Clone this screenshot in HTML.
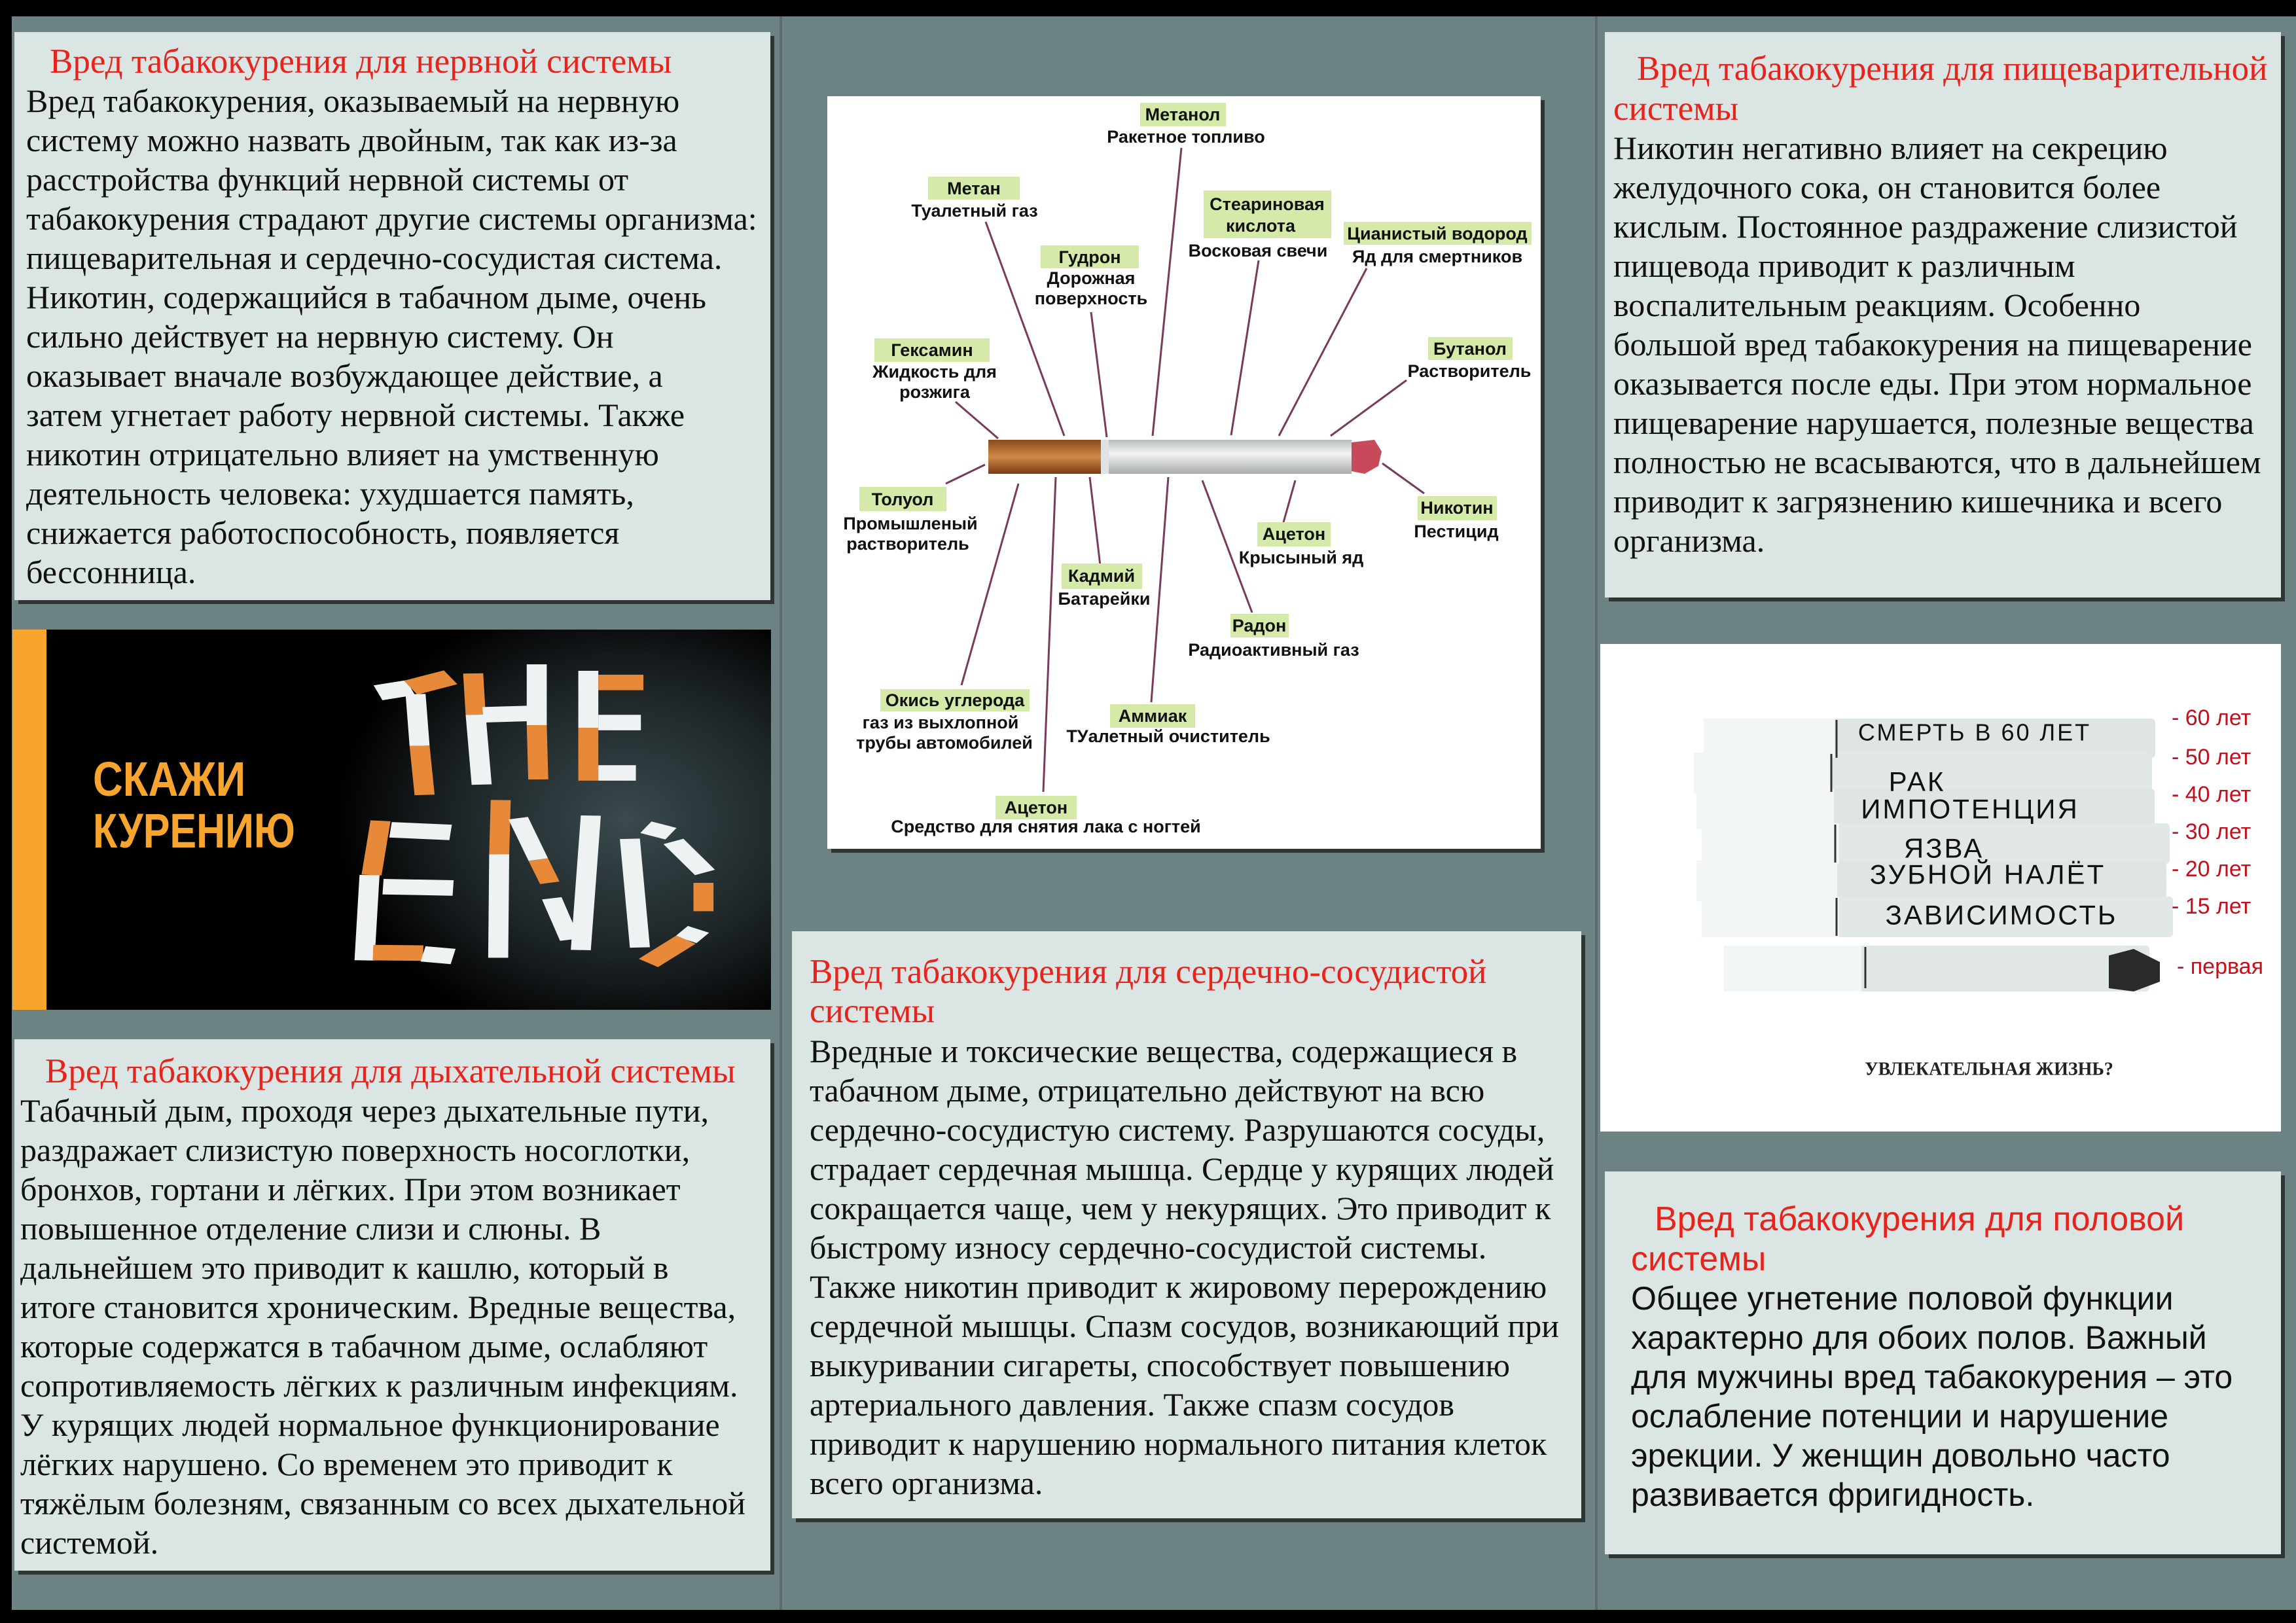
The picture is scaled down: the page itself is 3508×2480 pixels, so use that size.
<!DOCTYPE html>
<html><head><meta charset="utf-8">
<style>
*{margin:0;padding:0;box-sizing:border-box}
html,body{width:3508px;height:2480px;overflow:hidden}
body{background:#000;position:relative;font-family:"Liberation Serif","DejaVu Serif",serif}
.bg{position:absolute;left:18px;top:25px;width:3490px;height:2435px;background:#6d8283}
.div{position:absolute;top:25px;width:4px;height:2435px;background:#5a6c6d}
.box{position:absolute;background:#dbe5e4;box-shadow:6px 6px 0 #2e3535}
.t{position:absolute;white-space:nowrap;line-height:60px;font-size:50px;color:#111}
.h{color:#e8231b;font-size:53px}
.s{font-family:"Liberation Sans","DejaVu Sans",sans-serif;font-size:50px}
</style></head><body>
<div class="bg"></div>
<div class="div" style="left:1191px"></div>
<div class="div" style="left:2437px"></div>

<!-- Box 1 -->
<div class="box" style="left:22px;top:49px;width:1155px;height:868px"></div>
<div class="t h" style="left:76px;top:64px">Вред табакокурения для нервной системы</div>
<div class="t" style="left:40px;top:124px">Вред табакокурения, оказываемый на нервную<br>систему можно назвать двойным, так как из-за<br>расстройства функций нервной системы от<br>табакокурения страдают другие системы организма:<br>пищеварительная и сердечно-сосудистая система.<br>Никотин, содержащийся в табачном дыме, очень<br>сильно действует на нервную систему. Он<br>оказывает вначале возбуждающее действие, а<br>затем угнетает работу нервной системы. Также<br>никотин отрицательно влияет на умственную<br>деятельность человека: ухудшается память,<br>снижается работоспособность, появляется<br>бессонница.</div>

<!-- Dark image -->
<svg style="position:absolute;left:19px;top:962px" width="1159" height="581" viewBox="19 962 1159 581">
<defs><radialGradient id="dg" cx="0.7" cy="0.5" r="0.6"><stop offset="0" stop-color="#3a4a4e"/><stop offset="0.6" stop-color="#1c2325"/><stop offset="1" stop-color="#000"/></radialGradient></defs>
<rect x="19" y="962" width="1159" height="581" fill="#000"/>
<rect x="440" y="962" width="738" height="581" fill="url(#dg)"/>
<rect x="19" y="962" width="52" height="581" fill="#f7a52e"/>
<g transform="translate(0,950) scale(0.765,0.395)" stroke-linecap="butt">
<line x1="755" y1="275" x2="820" y2="255" stroke="#eef2f2" stroke-width="60"/>
<line x1="820" y1="255" x2="900" y2="215" stroke="#e8893a" stroke-width="60"/>
<line x1="830" y1="280" x2="838" y2="480" stroke="#eef2f2" stroke-width="40"/>
<line x1="838" y1="480" x2="848" y2="670" stroke="#e8893a" stroke-width="40"/>
<line x1="945" y1="200" x2="950" y2="360" stroke="#e8893a" stroke-width="40"/>
<line x1="950" y1="360" x2="962" y2="630" stroke="#eef2f2" stroke-width="40"/>
<line x1="965" y1="360" x2="1055" y2="355" stroke="#eef2f2" stroke-width="60"/>
<line x1="1072" y1="165" x2="1072" y2="400" stroke="#eef2f2" stroke-width="40"/>
<line x1="1072" y1="400" x2="1075" y2="610" stroke="#e8893a" stroke-width="40"/>
<line x1="1175" y1="190" x2="1175" y2="410" stroke="#eef2f2" stroke-width="40"/>
<line x1="1175" y1="410" x2="1175" y2="615" stroke="#e8893a" stroke-width="40"/>
<line x1="1195" y1="235" x2="1285" y2="235" stroke="#e8893a" stroke-width="60"/>
<line x1="1195" y1="390" x2="1280" y2="390" stroke="#eef2f2" stroke-width="60"/>
<line x1="1195" y1="585" x2="1270" y2="585" stroke="#eef2f2" stroke-width="60"/>
<line x1="760" y1="770" x2="742" y2="980" stroke="#e8893a" stroke-width="40"/>
<line x1="738" y1="980" x2="728" y2="1310" stroke="#eef2f2" stroke-width="40"/>
<line x1="780" y1="805" x2="900" y2="815" stroke="#eef2f2" stroke-width="60"/>
<line x1="765" y1="1025" x2="905" y2="1030" stroke="#eef2f2" stroke-width="60"/>
<line x1="745" y1="1280" x2="845" y2="1282" stroke="#e8893a" stroke-width="60"/>
<line x1="845" y1="1285" x2="905" y2="1295" stroke="#eef2f2" stroke-width="60"/>
<line x1="1000" y1="690" x2="997" y2="900" stroke="#e8893a" stroke-width="40"/>
<line x1="997" y1="900" x2="995" y2="1300" stroke="#eef2f2" stroke-width="40"/>
<line x1="1035" y1="760" x2="1075" y2="920" stroke="#eef2f2" stroke-width="40"/>
<line x1="1075" y1="920" x2="1098" y2="1010" stroke="#e8893a" stroke-width="40"/>
<line x1="1102" y1="1070" x2="1138" y2="1230" stroke="#eef2f2" stroke-width="40"/>
<line x1="1180" y1="750" x2="1160" y2="1270" stroke="#eef2f2" stroke-width="40"/>
<line x1="1258" y1="840" x2="1278" y2="1260" stroke="#eef2f2" stroke-width="40"/>
<line x1="1290" y1="795" x2="1340" y2="820" stroke="#eef2f2" stroke-width="50"/>
<line x1="1345" y1="850" x2="1408" y2="970" stroke="#eef2f2" stroke-width="45"/>
<line x1="1405" y1="1010" x2="1405" y2="1120" stroke="#e8893a" stroke-width="40"/>
<line x1="1395" y1="1190" x2="1370" y2="1230" stroke="#eef2f2" stroke-width="50"/>
<line x1="1370" y1="1230" x2="1295" y2="1320" stroke="#e8893a" stroke-width="50"/>
</g>
<g font-family="Liberation Sans,DejaVu Sans,sans-serif" font-weight="bold" fill="#f7a52e" font-size="74">
<text x="142" y="1216" transform="translate(142,0) scale(0.72,1) translate(-142,0)" textLength="324" lengthAdjust="spacingAndGlyphs">СКАЖИ</text>
<text x="142" y="1295" transform="translate(142,0) scale(0.72,1) translate(-142,0)" textLength="429" lengthAdjust="spacingAndGlyphs">КУРЕНИЮ</text>
</g>
</svg>

<!-- Respiratory box -->
<div class="box" style="left:22px;top:1588px;width:1155px;height:812px"></div>
<div class="t h" style="left:69px;top:1607px">Вред табакокурения для дыхательной системы</div>
<div class="t" style="left:31px;top:1667px">Табачный дым, проходя через дыхательные пути,<br>раздражает слизистую поверхность носоглотки,<br>бронхов, гортани и лёгких. При этом возникает<br>повышенное отделение слизи и слюны. В<br>дальнейшем это приводит к кашлю, который в<br>итоге становится хроническим. Вредные вещества,<br>которые содержатся в табачном дыме, ослабляют<br>сопротивляемость лёгких к различным инфекциям.<br>У курящих людей нормальное функционирование<br>лёгких нарушено. Со временем это приводит к<br>тяжёлым болезням, связанным со всех дыхательной<br>системой.</div>

<!-- Diagram -->
<svg style="position:absolute;left:0;top:0" width="3508" height="2480">
<defs>
<linearGradient id="fg" x1="0" y1="0" x2="0" y2="1"><stop offset="0" stop-color="#8a4a1c"/><stop offset="0.5" stop-color="#d08a4a"/><stop offset="1" stop-color="#7a3a14"/></linearGradient>
<linearGradient id="wg" x1="0" y1="0" x2="0" y2="1"><stop offset="0" stop-color="#b8bcbc"/><stop offset="0.4" stop-color="#f2f4f4"/><stop offset="1" stop-color="#a8acac"/></linearGradient>
</defs>
<rect x="1264" y="147" width="1090" height="1150" fill="#fff" style="filter:drop-shadow(6px 6px 0 #2e3535)"/>
<g stroke="#7a3a5c" stroke-width="3">
<line x1="1805" y1="226" x2="1761" y2="666"/>
<line x1="1506" y1="339" x2="1626" y2="666"/>
<line x1="1667" y1="477" x2="1691" y2="668"/>
<line x1="1923" y1="398" x2="1881" y2="665"/>
<line x1="2088" y1="410" x2="1954" y2="666"/>
<line x1="2149" y1="581" x2="2033" y2="666"/>
<line x1="1460" y1="614" x2="1525" y2="670"/>
<line x1="1445" y1="739" x2="1505" y2="710"/>
<line x1="2112" y1="708" x2="2176" y2="754"/>
<line x1="1979" y1="734" x2="1961" y2="798"/>
<line x1="1665" y1="729" x2="1681" y2="864"/>
<line x1="1837" y1="734" x2="1913" y2="936"/>
<line x1="1556" y1="739" x2="1469" y2="1047"/>
<line x1="1785" y1="729" x2="1759" y2="1073"/>
<line x1="1613" y1="729" x2="1594" y2="1210"/>
</g>
<rect x="1510" y="672" width="172" height="52" fill="url(#fg)"/>
<rect x="1682" y="672" width="383" height="52" fill="url(#wg)"/>
<rect x="1682" y="672" width="12" height="52" fill="#dfe3e3"/>
<path d="M2065 676 L2100 672 L2111 690 L2106 712 L2085 724 L2065 720Z" fill="#c84a5a"/>
<g fill="#d5eaa8">
<rect x="1742" y="157" width="131" height="36"/>
<rect x="1418" y="270" width="140" height="35"/>
<rect x="1590" y="375" width="150" height="35"/>
<rect x="1839" y="291" width="195" height="73"/>
<rect x="2053" y="339" width="287" height="35"/>
<rect x="2182" y="515" width="129" height="35"/>
<rect x="1336" y="517" width="176" height="36"/>
<rect x="1313" y="744" width="133" height="37"/>
<rect x="2166" y="758" width="121" height="37"/>
<rect x="1921" y="798" width="112" height="37"/>
<rect x="1622" y="861" width="123" height="39"/>
<rect x="1880" y="938" width="89" height="36"/>
<rect x="1345" y="1053" width="228" height="34"/>
<rect x="1696" y="1076" width="130" height="36"/>
<rect x="1521" y="1216" width="124" height="36"/>
</g>
<g font-family="Liberation Sans,DejaVu Sans,sans-serif" font-weight="bold" font-size="27" fill="#111" text-anchor="middle" dominant-baseline="central">
<text x="1807" y="175">Метанол</text><text x="1812" y="209">Ракетное топливо</text>
<text x="1488" y="288">Метан</text><text x="1489" y="322">Туалетный газ</text>
<text x="1665" y="393">Гудрон</text><text x="1667" y="425">Дорожная</text><text x="1667" y="456">поверхность</text>
<text x="1936" y="312">Стеариновая</text><text x="1926" y="345">кислота</text><text x="1922" y="383">Восковая свечи</text>
<text x="2196" y="357">Цианистый водород</text><text x="2196" y="392">Яд для смертников</text>
<text x="2246" y="533">Бутанол</text><text x="2245" y="567">Растворитель</text>
<text x="1424" y="535">Гексамин</text><text x="1428" y="568">Жидкость для</text><text x="1428" y="599">розжига</text>
<text x="1379" y="763">Толуол</text><text x="1391" y="800">Промышленый</text><text x="1387" y="831">растворитель</text>
<text x="2226" y="776">Никотин</text><text x="2225" y="812">Пестицид</text>
<text x="1977" y="816">Ацетон</text><text x="1988" y="852">Крысыный яд</text>
<text x="1683" y="880">Кадмий</text><text x="1687" y="915">Батарейки</text>
<text x="1924" y="956">Радон</text><text x="1946" y="993">Радиоактивный газ</text>
<text x="1459" y="1070">Окись углерода</text><text x="1437" y="1104">газ из выхлопной</text><text x="1443" y="1135">трубы автомобилей</text>
<text x="1761" y="1094">Аммиак</text><text x="1785" y="1125">ТУалетный очиститель</text>
<text x="1583" y="1234">Ацетон</text><text x="1598" y="1263">Средство для снятия лака с ногтей</text>
</g>

<!-- Right image -->
<rect x="2445" y="984" width="1040" height="745" fill="#fff"/>
<g>
<rect x="2603" y="1098" width="690" height="60" rx="6" fill="#dfe5e5"/>
<rect x="2588" y="1150" width="700" height="62" rx="6" fill="#e2e8e8"/>
<rect x="2592" y="1205" width="700" height="62" rx="6" fill="#dfe5e5"/>
<rect x="2600" y="1258" width="715" height="62" rx="6" fill="#e2e8e8"/>
<rect x="2592" y="1315" width="718" height="62" rx="6" fill="#dfe5e5"/>
<rect x="2600" y="1370" width="720" height="62" rx="6" fill="#e2e8e8"/>
<rect x="2634" y="1445" width="650" height="70" rx="6" fill="#e2e8e8"/>
<g fill="#f3f6f6"><rect x="2603" y="1098" width="200" height="60"/><rect x="2588" y="1150" width="210" height="62"/><rect x="2592" y="1205" width="210" height="62"/><rect x="2600" y="1258" width="210" height="62"/><rect x="2592" y="1315" width="215" height="62"/><rect x="2600" y="1370" width="210" height="62"/><rect x="2634" y="1445" width="210" height="70"/></g>
<path d="M3222 1460 L3260 1450 L3300 1470 L3300 1500 L3260 1515 L3222 1510Z" fill="#2a2a2a"/>
<g stroke="#333" stroke-width="3"><line x1="2806" y1="1100" x2="2806" y2="1158"/><line x1="2798" y1="1152" x2="2798" y2="1210"/><line x1="2804" y1="1260" x2="2804" y2="1318"/><line x1="2806" y1="1372" x2="2806" y2="1430"/><line x1="2850" y1="1447" x2="2850" y2="1510"/></g>
</g>
<g font-family="Liberation Sans,DejaVu Sans,sans-serif" font-size="42" fill="#111" text-anchor="middle" dominant-baseline="central" letter-spacing="3">
<text x="3017" y="1119" font-size="36">СМЕРТЬ В 60 ЛЕТ</text>
<text x="2929" y="1194">РАК</text>
<text x="3010" y="1236">ИМПОТЕНЦИЯ</text>
<text x="2970" y="1296">ЯЗВА</text>
<text x="3037" y="1336">ЗУБНОЙ НАЛЁТ</text>
<text x="3058" y="1398">ЗАВИСИМОСТЬ</text>
</g>
<g font-family="Liberation Sans,DejaVu Sans,sans-serif" font-size="34" fill="#c4101c" dominant-baseline="central">
<text x="3318" y="1097">- 60 лет</text><text x="3318" y="1157">- 50 лет</text><text x="3318" y="1214">- 40 лет</text><text x="3318" y="1271">- 30 лет</text><text x="3318" y="1328">- 20 лет</text><text x="3318" y="1385">- 15 лет</text><text x="3326" y="1477">- первая</text>
</g>
<text x="3039" y="1634" font-family="Liberation Serif,serif" font-weight="bold" font-size="28" fill="#222" text-anchor="middle" dominant-baseline="central">УВЛЕКАТЕЛЬНАЯ ЖИЗНЬ?</text>
</svg>

<!-- Center box -->
<div class="box" style="left:1210px;top:1423px;width:1206px;height:897px"></div>
<div class="t h" style="left:1237px;top:1455px">Вред табакокурения для сердечно-сосудистой<br>системы</div>
<div class="t" style="left:1237px;top:1576px">Вредные и токсические вещества, содержащиеся в<br>табачном дыме, отрицательно действуют на всю<br>сердечно-сосудистую систему. Разрушаются сосуды,<br>страдает сердечная мышца. Сердце у курящих людей<br>сокращается чаще, чем у некурящих. Это приводит к<br>быстрому износу сердечно-сосудистой системы.<br>Также никотин приводит к жировому перерождению<br>сердечной мышцы. Спазм сосудов, возникающий при<br>выкуривании сигареты, способствует повышению<br>артериального давления. Также спазм сосудов<br>приводит к нарушению нормального питания клеток<br>всего организма.</div>

<!-- Right box 1 -->
<div class="box" style="left:2452px;top:49px;width:1033px;height:864px"></div>
<div class="t h" style="left:2501px;top:75px">Вред табакокурения для пищеварительной</div>
<div class="t h" style="left:2465px;top:136px">системы</div>
<div class="t" style="left:2465px;top:196px">Никотин негативно влияет на секрецию<br>желудочного сока, он становится более<br>кислым. Постоянное раздражение слизистой<br>пищевода приводит к различным<br>воспалительным реакциям. Особенно<br>большой вред табакокурения на пищеварение<br>оказывается после еды. При этом нормальное<br>пищеварение нарушается, полезные вещества<br>полностью не всасываются, что в дальнейшем<br>приводит к загрязнению кишечника и всего<br>организма.</div>

<!-- Right box 2 -->
<div class="box" style="left:2452px;top:1790px;width:1033px;height:585px"></div>
<div class="t s h" style="left:2528px;top:1833px;font-size:52px">Вред табакокурения для половой</div>
<div class="t s h" style="left:2492px;top:1894px;font-size:52px">системы</div>
<div class="t s" style="left:2492px;top:1954px">Общее угнетение половой функции<br>характерно для обоих полов. Важный<br>для мужчины вред табакокурения – это<br>ослабление потенции и нарушение<br>эрекции. У женщин довольно часто<br>развивается фригидность.</div>
</body></html>
